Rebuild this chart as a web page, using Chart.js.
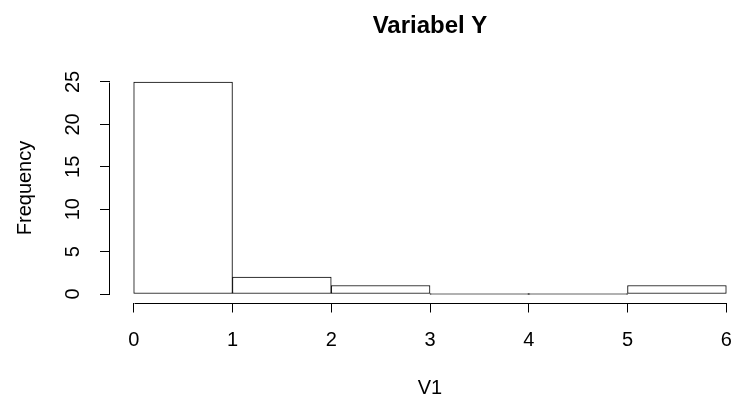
<!DOCTYPE html>
<html lang="en">
<head>
    <meta charset="UTF-8">
    <title>Variabel Y</title>
    <style>
        body {
            margin: 0;
            padding: 0;
            background-color: #fff;
            overflow: hidden;
        }
        .wrap {
            width: 733px;
            height: 399px;
            overflow: hidden;
        }
    </style>
</head>
<body>
<div class="wrap">
    <canvas id="hist" width="760" height="399"></canvas>
</div>
<script src="https://cdn.jsdelivr.net/npm/chart.js"></script>
<script>
    // histogram data (R hist of V1)
    const binEdges = [0, 1, 2, 3, 4, 5, 6];
    const counts = [25, 2, 1, 0, 0, 1];
    const xTicks = [0, 1, 2, 3, 4, 5, 6];
    const yTicks = [0, 5, 10, 15, 20, 25];

    const fontFamily = "'Liberation Sans', Arial, sans-serif";

    // one bar per bin, centred on the bin
    const bars = counts.map((c, i) => ({ x: (binEdges[i] + binEdges[i + 1]) / 2, y: c }));

    function noPadding(scale) {
        scale.paddingLeft = 0;
        scale.paddingRight = 0;
        scale.paddingTop = 0;
        scale.paddingBottom = 0;
    }

    // R style axes: line only from first to last tick, rotated y labels
    const rAxes = {
        id: 'rAxes',
        afterDraw(chart) {
            const ctx = chart.ctx;
            const x = chart.scales.x, y = chart.scales.y;
            const area = chart.chartArea;
            ctx.save();
            ctx.strokeStyle = '#000';
            ctx.lineWidth = 1;
            ctx.beginPath();
            const xb = Math.round(area.bottom) + 0.5;
            ctx.moveTo(Math.round(x.getPixelForValue(xTicks[0])) + 0.5, xb);
            ctx.lineTo(Math.round(x.getPixelForValue(xTicks[xTicks.length - 1])) + 0.5, xb);
            const yl = Math.round(area.left) - 0.5;
            ctx.moveTo(yl, Math.round(y.getPixelForValue(yTicks[0])) + 0.5);
            ctx.lineTo(yl, Math.round(y.getPixelForValue(yTicks[yTicks.length - 1])) + 0.5);
            ctx.stroke();

            ctx.fillStyle = '#000';
            ctx.font = '20px ' + fontFamily;
            ctx.textAlign = 'center';
            ctx.textBaseline = 'middle';
            yTicks.forEach(v => {
                ctx.save();
                ctx.translate(73, y.getPixelForValue(v));
                ctx.rotate(-Math.PI / 2);
                ctx.fillText(String(v), 0, 0);
                ctx.restore();
            });
            ctx.restore();
        }
    };

    new Chart(document.getElementById('hist'), {
        type: 'bar',
        data: {
            datasets: [{
                data: bars,
                backgroundColor: '#fff',
                borderColor: '#000',
                borderWidth: 1,
                borderSkipped: false,
                minBarLength: 1,
                barPercentage: 1,
                categoryPercentage: 1
            }]
        },
        options: {
            responsive: false,
            animation: false,
            devicePixelRatio: 1,
            layout: { padding: { left: 0, right: 10, top: 0, bottom: 0 } },
            plugins: {
                legend: { display: false },
                tooltip: { enabled: false },
                title: {
                    display: true,
                    text: 'Variabel Y',
                    fullSize: false,
                    color: '#000',
                    font: { family: fontFamily, size: 24, weight: 'bold' },
                    padding: { top: 12, bottom: 32.7 }
                }
            },
            scales: {
                x: {
                    type: 'linear',
                    min: -0.24,
                    max: 6.24,
                    offset: false,
                    afterBuildTicks: scale => { scale.ticks = xTicks.map(v => ({ value: v })); },
                    afterFit: scale => { scale.height = 96.5; noPadding(scale); },
                    border: { display: false },
                    grid: { offset: false, drawOnChartArea: false, drawTicks: true, tickLength: 10, color: '#000' },
                    ticks: {
                        color: '#000',
                        font: { family: fontFamily, size: 20 },
                        padding: 15.5,
                        maxRotation: 0,
                        autoSkip: false
                    },
                    title: {
                        display: true,
                        text: 'V1',
                        color: '#000',
                        font: { family: fontFamily, size: 20 },
                        padding: { top: 0, bottom: -1 }
                    }
                },
                y: {
                    min: -1,
                    max: 26,
                    afterBuildTicks: scale => { scale.ticks = yTicks.map(v => ({ value: v })); },
                    afterFit: scale => { scale.width = 110; noPadding(scale); },
                    border: { display: false },
                    grid: { drawOnChartArea: false, drawTicks: true, tickLength: 10, color: '#000' },
                    ticks: { display: false },
                    title: {
                        display: true,
                        text: 'Frequency',
                        color: '#000',
                        font: { family: fontFamily, size: 20 },
                        padding: { top: 13, bottom: 0 }
                    }
                }
            }
        },
        plugins: [rAxes]
    });
</script>
</body>
</html>
